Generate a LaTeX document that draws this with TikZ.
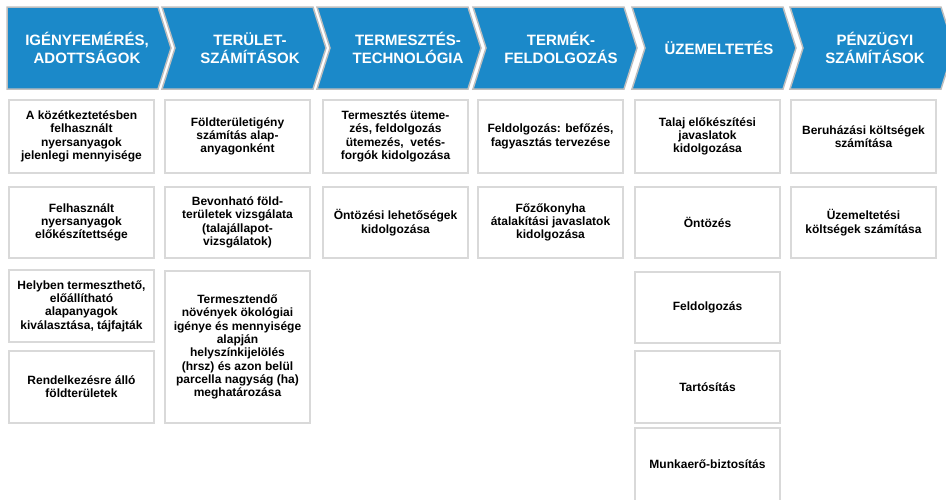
\documentclass[tikz,border=0pt]{standalone}
\usepackage{fontspec}
\setmainfont{Liberation Sans}
\usepackage{tikz}
\usetikzlibrary{calc,positioning}
\definecolor{hdrblue}{RGB}{27,137,201}
\definecolor{hdrline}{RGB}{190,190,190}
\definecolor{boxline}{RGB}{217,217,217}
\tikzset{>=latex}

\begin{document}
\begin{tikzpicture}[x=1pt, y=-1pt,
chev/.style={fill=hdrblue, draw=hdrline, line width=1.5pt, line join=miter},
hdr/.style={text=white, align=center, font=\bfseries\fontsize{15}{18}\selectfont},
box/.style={draw=boxline, line width=2pt, fill=white, minimum width=145pt, inner sep=0pt, align=center, font=\bfseries\fontsize{12}{13.3}\selectfont}]
\useasboundingbox (0,0) rectangle (946,499);
\clip (0,0) rectangle (946,499);

% chevrons
\draw[chev] (7,7) -- ++(151,0) -- ++(13,41) -- ++(-13,41) -- ++(-151,0) -- cycle;
\draw[chev] (162,7) -- ++(151,0) -- ++(13,41) -- ++(-13,41) -- ++(-151,0) -- ++(13,-41) -- cycle;
\draw[chev] (317,7) -- ++(151,0) -- ++(13,41) -- ++(-13,41) -- ++(-151,0) -- ++(13,-41) -- cycle;
\draw[chev] (473,7) -- ++(151,0) -- ++(13,41) -- ++(-13,41) -- ++(-151,0) -- ++(13,-41) -- cycle;
\draw[chev] (632,7) -- ++(151,0) -- ++(13,41) -- ++(-13,41) -- ++(-151,0) -- ++(13,-41) -- cycle;
\draw[chev] (790,7) -- ++(151,0) -- ++(13,41) -- ++(-13,41) -- ++(-151,0) -- ++(13,-41) -- cycle;

\node[hdr] (h-1) at (87,48) {IGÉNYFEMÉRÉS,\\ADOTTSÁGOK};
\node[hdr] (h-2) at (250,48) {TERÜLET-\\SZÁMÍTÁSOK};
\node[hdr] (h-3) at (408,48) {TERMESZTÉS-\\TECHNOLÓGIA};
\node[hdr] (h-4) at (561,48) {TERMÉK-\\FELDOLGOZÁS};
\node[hdr] (h-5) at (719,48) {ÜZEMELTETÉS};
\node[hdr] (h-6) at (875,48) {PÉNZÜGYI\\SZÁMÍTÁSOK};

% column 1
\node[box, minimum height=73pt] (b-1-1) at (81.5,136.5) {A közétkeztetésben\\felhasznált\\nyersanyagok\\jelenlegi mennyisége};
\node[box, minimum height=71pt] (b-1-2) at (81.5,222.5) {Felhasznált\\nyersanyagok\\előkészítettsége};
\node[box, minimum height=72pt] (b-1-3) at (81.5,306) {Helyben termeszthető,\\előállítható\\alapanyagok\\kiválasztása, tájfajták};
\node[box, minimum height=72pt] (b-1-4) at (81.5,387) {Rendelkezésre álló\\földterületek};
% column 2
\node[box, minimum height=73pt] (b-2-1) at (237.5,136.5) {Földterületigény\\számítás alap-\\anyagonként};
\node[box, minimum height=71pt] (b-2-2) at (237.5,222.5) {Bevonható föld-\\területek vizsgálata\\(talajállapot-\\vizsgálatok)};
\node[box, minimum height=152pt] (b-2-3) at (237.5,347) {Termesztendő\\növények ökológiai\\igénye és mennyisége\\alapján\\helyszínkijelölés\\(hrsz) és azon belül\\parcella nagyság (ha)\\meghatározása};
% column 3
\node[box, minimum height=73pt] (b-3-1) at (395.5,136.5) {Termesztés üteme-\\zés, feldolgozás\\ütemezés,~ vetés-\\forgók kidolgozása};
\node[box, minimum height=71pt] (b-3-2) at (395.5,222.5) {Öntözési lehetőségek\\kidolgozása};
% column 4
\node[box, minimum height=73pt] (b-4-1) at (550.5,136.5) {Feldolgozás: befőzés,\\fagyasztás tervezése};
\node[box, minimum height=71pt] (b-4-2) at (550.5,222.5) {Főzőkonyha\\átalakítási javaslatok\\kidolgozása};
% column 5
\node[box, minimum height=73pt] (b-5-1) at (707.5,136.5) {Talaj előkészítési\\javaslatok\\kidolgozása};
\node[box, minimum height=71pt] (b-5-2) at (707.5,222.5) {Öntözés};
\node[box, minimum height=71pt] (b-5-3) at (707.5,307.5) {Feldolgozás};
\node[box, minimum height=72pt] (b-5-4) at (707.5,387) {Tartósítás};
\node[box, minimum height=73pt] (b-5-5) at (707.5,464.5) {Munkaerő-biztosítás};
% column 6
\node[box, minimum height=73pt] (b-6-1) at (863.5,136.5) {Beruházási költségek\\számítása};
\node[box, minimum height=71pt] (b-6-2) at (863.5,222.5) {Üzemeltetési\\költségek számítása};
\end{tikzpicture}
\end{document}
